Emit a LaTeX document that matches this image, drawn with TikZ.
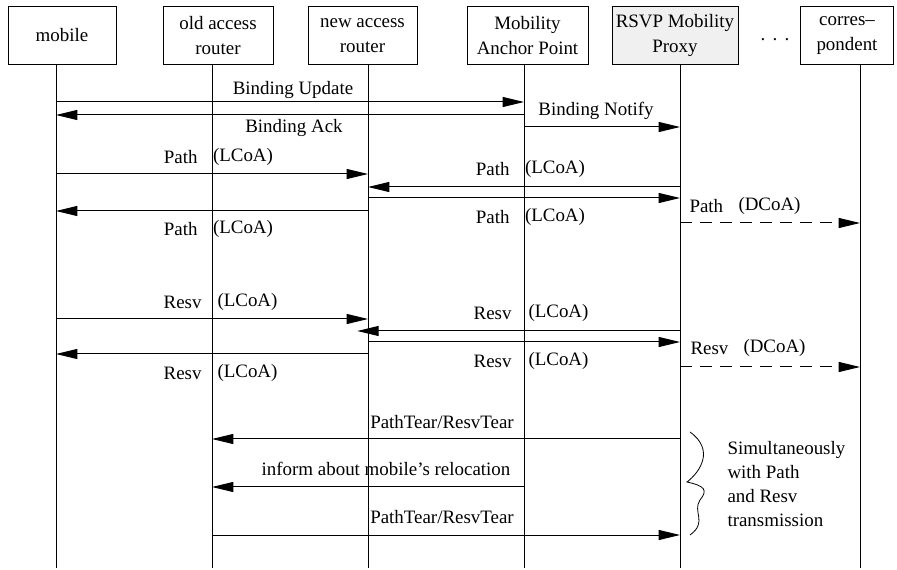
\documentclass[tikz,border=0pt]{standalone}
\usepackage{fontspec}
\setmainfont{Liberation Serif}
\usetikzlibrary{arrows.meta}
\tikzset{>={Triangle[length=16pt,width=7.5pt]}}
\tikzset{ent/.style={draw, minimum height=44pt, inner sep=0pt, align=center, font=\fontsize{14.2}{18.5}\selectfont}}
\tikzset{lbl/.style={inner sep=0pt, font=\fontsize{14.2}{18}\selectfont}}
\tikzset{msg/.style={->}}
\tikzset{fwd/.style={->, dashed, dash pattern=on 9pt off 6pt}}

\begin{document}
\begin{tikzpicture}[x=0.75pt, y=-0.75pt, line width=0.75pt]
\useasboundingbox (0,0) rectangle (897,570);

\node[ent, minimum width=81pt] (mob) at (62,35.5) {mobile};
\node[ent, minimum width=82.5pt] (oar) at (218,35.5) {old access\\router};
\node[ent, minimum width=81.75pt] (nar) at (362.5,35.5) {new access\\router};
\node[ent, minimum width=90.75pt] (map) at (527.5,35.5) {Mobility\\Anchor Point};
\node[ent, minimum width=94.5pt, fill=gray!12] (rmp) at (675,35.5) {RSVP Mobility\\Proxy};
\node[ent, minimum width=70pt] (cn) at (847,35.5) {corres–\\pondent};
\node[lbl] (dots) at (775,40) {.\hspace{5.5pt}.\hspace{5.5pt}.};

\coordinate (mobL) at (56,65);
\coordinate (oarL) at (212,65);
\coordinate (narL) at (368,65);
\coordinate (mapL) at (524,65);
\coordinate (rmpL) at (680,65);
\coordinate (cnL) at (860,65);
\coordinate (mobB) at (56,568);
\coordinate (oarB) at (212,568);
\coordinate (narB) at (368,568);
\coordinate (mapB) at (524,568);
\coordinate (rmpB) at (680,568);
\coordinate (cnB) at (860,568);

\draw (mobL) -- (mobB);
\draw (oarL) -- (oarB);
\draw (narL) -- (narB);
\draw (mapL) -- (mapB);
\draw (rmpL) -- (rmpB);
\draw (cnL) -- (cnB);

% binding
\draw[msg] (mobL |- 0,102) -- (mapL |- 0,102);
\draw[msg] (mapL |- 0,115) -- (mobL |- 0,115);
\draw[msg] (mapL |- 0,127) -- (rmpL |- 0,127);
\node[lbl] (bu) at (293,90) {Binding Update};
\node[lbl] (ba) at (294,128) {Binding Ack};
\node[lbl] (bn) at (596,111) {Binding Notify};

% path
\draw[msg] (mobL |- 0,174) -- (narL |- 0,174);
\draw[msg] (rmpL |- 0,187) -- (narL |- 0,187);
\draw[msg] (narL |- 0,198) -- (rmpL |- 0,198);
\draw[msg] (narL |- 0,211) -- (mobL |- 0,211);
\draw[fwd] (rmpL |- 0,223) -- (cnL |- 0,223);
\node[lbl, anchor=east] (p1) at (198,157) {Path};
\node[lbl, anchor=west] (p1c) at (212.5,157) {(LCoA)};
\node[lbl, anchor=east] (p2) at (510,169) {Path};
\node[lbl, anchor=west] (p2c) at (524.5,169) {(LCoA)};
\node[lbl, anchor=east] (p3) at (510,217) {Path};
\node[lbl, anchor=west] (p3c) at (524.5,217) {(LCoA)};
\node[lbl, anchor=east] (p4) at (198,229) {Path};
\node[lbl, anchor=west] (p4c) at (212.5,229) {(LCoA)};
\node[lbl, anchor=west] (p5) at (689,206) {Path};
\node[lbl, anchor=west] (p5c) at (738,206) {(DCoA)};

% resv
\draw[msg] (mobL |- 0,319) -- (narL |- 0,319);
\draw[msg, shorten >=-8pt] (rmpL |- 0,331) -- (narL |- 0,331);
\draw[msg] (narL |- 0,342) -- (rmpL |- 0,342);
\draw[msg] (narL |- 0,354) -- (mobL |- 0,354);
\draw[fwd] (rmpL |- 0,367) -- (cnL |- 0,367);
\node[lbl, anchor=east] (r1) at (202,302) {Resv};
\node[lbl, anchor=west] (r1c) at (217,302) {(LCoA)};
\node[lbl, anchor=east] (r2) at (512,313) {Resv};
\node[lbl, anchor=west] (r2c) at (528,313) {(LCoA)};
\node[lbl, anchor=east] (r3) at (512,361) {Resv};
\node[lbl, anchor=west] (r3c) at (528,361) {(LCoA)};
\node[lbl, anchor=east] (r4) at (202,373) {Resv};
\node[lbl, anchor=west] (r4c) at (217,373) {(LCoA)};
\node[lbl, anchor=west] (r5) at (690,348) {Resv};
\node[lbl, anchor=west] (r5c) at (743,348) {(DCoA)};

% teardown
\draw[msg] (rmpL |- 0,439) -- (oarL |- 0,439);
\draw[msg] (mapL |- 0,487) -- (oarL |- 0,487);
\draw[msg] (oarL |- 0,535) -- (rmpL |- 0,535);
\node[lbl] (t1) at (442,422) {PathTear/ResvTear};
\node[lbl] (inf) at (386,469) {inform about mobile's relocation};
\node[lbl] (t2) at (442,517) {PathTear/ResvTear};

\draw[line width=0.6pt] (690,432) .. controls (715,450) and (700,472) .. (687,482)
  .. controls (705,486) and (708,490) .. (700,500)
  .. controls (692,512) and (708,522) .. (690,535);
\node[lbl, anchor=north west, align=left] (simul) at (727,441)
  {Simultaneously\\with Path\\and Resv\\transmission};
\end{tikzpicture}
\end{document}
